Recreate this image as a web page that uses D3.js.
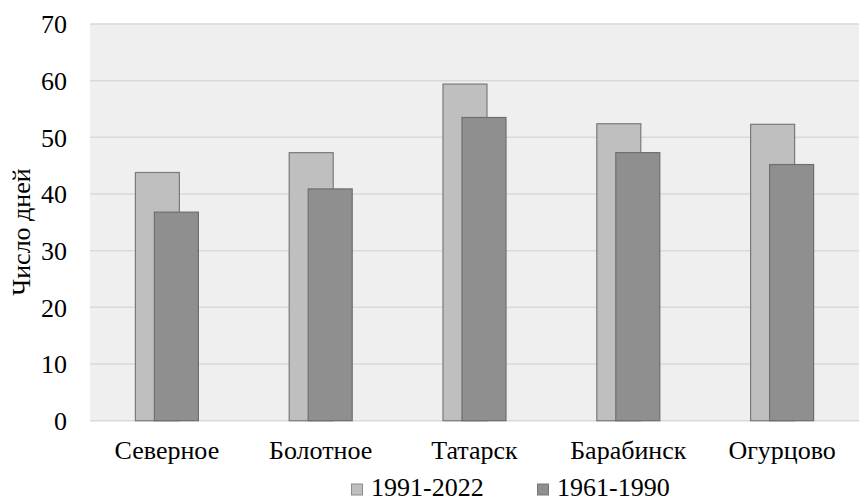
<!DOCTYPE html>
<html>
<head>
<meta charset="utf-8">
<script src="https://cdn.jsdelivr.net/npm/d3@7"></script>
<style>
  html, body { margin: 0; padding: 0; background: #fff; }
  svg { display: block; }
</style>
</head>
<body>
<svg id="chart" width="859" height="499"></svg>
<script>
// Stations and number of days for the two climate periods
const stations = ["Северное", "Болотное", "Татарск", "Барабинск", "Огурцово"];
const recent = [43.8, 47.3, 59.4, 52.4, 52.3];   // 1991-2022
const baseline = [36.8, 40.9, 53.5, 47.3, 45.2]; // 1961-1990
const seriesNames = ["1991-2022", "1961-1990"];
const yTicks = [0, 10, 20, 30, 40, 50, 60, 70];

const FONT = "Liberation Serif";
const FS = 26;

const svg = d3.select("#chart");
const W = 859;
const margin = { left: 90, right: 0, top: 24 };
const plotBottom = 420.7;

const x = d3.scaleBand().domain(stations).range([margin.left, W - margin.right]).padding(0);
const y = d3.scaleLinear().domain([0, 70]).range([plotBottom, margin.top]);

// plot background
svg.append("rect")
  .attr("x", margin.left).attr("y", margin.top)
  .attr("width", W - margin.left - margin.right).attr("height", plotBottom - margin.top)
  .attr("fill", "#efefef");

// horizontal gridlines
svg.append("g").selectAll("line").data(yTicks).join("line")
  .attr("x1", margin.left).attr("x2", W - margin.right)
  .attr("y1", d => y(d)).attr("y2", d => y(d))
  .attr("stroke", "#d9d9d9").attr("stroke-width", 1.5);

// y axis labels
const gy = svg.append("g").attr("transform", "translate(67,0)")
  .call(d3.axisLeft(y).tickValues(yTicks).tickSize(0).tickPadding(0));
gy.attr("font-family", FONT).attr("font-size", FS);
gy.select(".domain").remove();
gy.selectAll("text").attr("fill", "#000").attr("dy", "0.34em");

// x axis labels
const gx = svg.append("g").attr("transform", "translate(0,441)")
  .call(d3.axisBottom(x).tickSize(0).tickPadding(0));
gx.attr("font-family", FONT).attr("font-size", FS);
gx.select(".domain").remove();
gx.selectAll("text").attr("fill", "#000");

// overlapping bars: recent period behind, baseline period shifted right in front
const barW = 44, shift = 19;
const left = d => x(d) + x.bandwidth() / 2 - (barW + shift) / 2;
const groups = svg.append("g").selectAll("g").data(stations).join("g");
groups.append("rect")
  .attr("x", d => left(d))
  .attr("y", (d, i) => y(recent[i]))
  .attr("width", barW)
  .attr("height", (d, i) => y(0) - y(recent[i]))
  .attr("fill", "#bfbfbf").attr("stroke", "#7a7a7a").attr("stroke-width", 1.2);
groups.append("rect")
  .attr("x", d => left(d) + shift)
  .attr("y", (d, i) => y(baseline[i]))
  .attr("width", barW)
  .attr("height", (d, i) => y(0) - y(baseline[i]))
  .attr("fill", "#8f8f8f").attr("stroke", "#6e6e6e").attr("stroke-width", 1.2);

// y axis title
svg.append("text")
  .attr("transform", "translate(30,232) rotate(-90)")
  .attr("text-anchor", "middle")
  .attr("font-family", FONT)
  .attr("font-size", FS)
  .text("Число дней");

// legend
const legendItems = [
  { name: seriesNames[0], color: "#bfbfbf", stroke: "#8a8a8a", x: 351 },
  { name: seriesNames[1], color: "#8f8f8f", stroke: "#777777", x: 537 }
];
const lg = svg.append("g").selectAll("g").data(legendItems).join("g")
  .attr("transform", d => `translate(${d.x},483.5)`);
lg.append("rect").attr("x", 0.5).attr("y", 0.5).attr("width", 11).attr("height", 11)
  .attr("fill", d => d.color).attr("stroke", d => d.stroke).attr("stroke-width", 1);
lg.append("text").attr("x", 20).attr("y", 12.5)
  .attr("font-family", FONT)
  .attr("font-size", FS).text(d => d.name);
</script>
</body>
</html>
